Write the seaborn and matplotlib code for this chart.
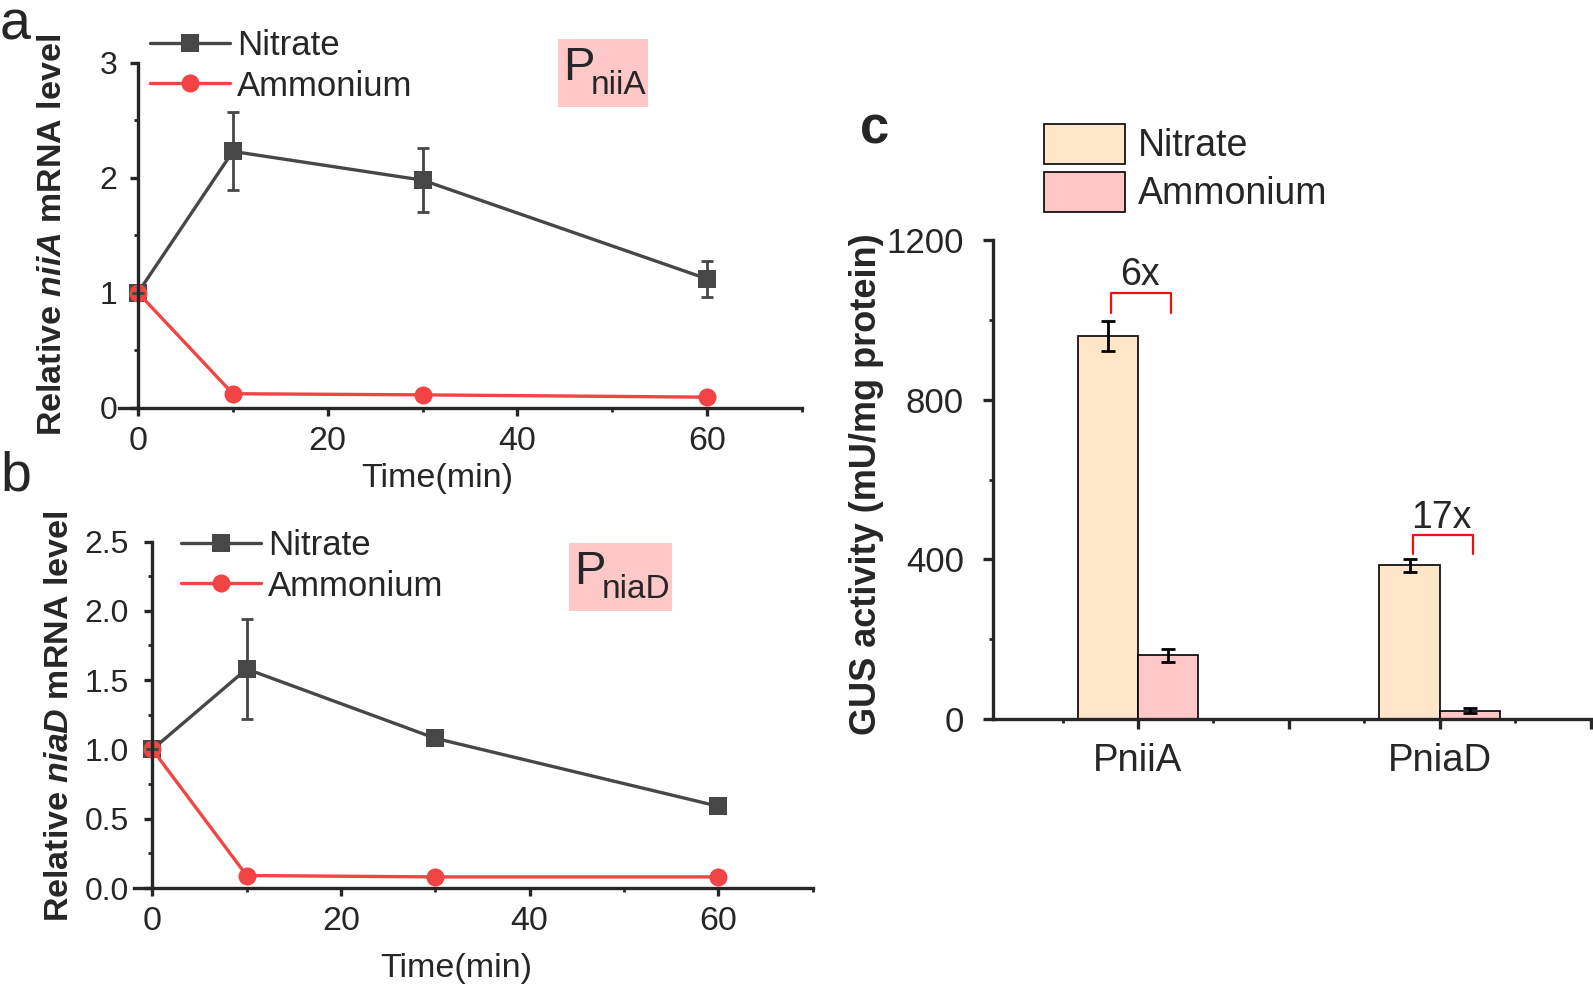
import numpy as np
import pandas as pd
import matplotlib
matplotlib.use("Agg")
import matplotlib.pyplot as plt
from matplotlib.ticker import MultipleLocator, FixedLocator, FormatStrFormatter
import seaborn as sns

# ---- data ----
time_min = [0, 10, 30, 60]

niiA_nitrate = [1.0, 2.23, 1.98, 1.12]
niiA_nitrate_err = [0.0, 0.34, 0.28, 0.16]
niiA_ammonium = [1.0, 0.12, 0.11, 0.09]
niiA_ammonium_err = [0.0, 0.01, 0.01, 0.01]

niaD_nitrate = [1.0, 1.58, 1.08, 0.59]
niaD_nitrate_err = [0.0, 0.36, 0.03, 0.03]
niaD_ammonium = [1.0, 0.09, 0.08, 0.08]
niaD_ammonium_err = [0.0, 0.01, 0.01, 0.01]

promoters = ["PniiA", "PniaD"]
gus_nitrate = [960, 385]
gus_nitrate_err = [38, 17]
gus_ammonium = [160, 22]
gus_ammonium_err = [16, 6]
fold_labels = ["6x", "17x"]

conditions = ["Nitrate", "Ammonium"]
gray = "#474747"
red = "#F24444"
palette = {"Nitrate": gray, "Ammonium": red}
bar_colors = {"Nitrate": "#FFE6C8", "Ammonium": "#FFC8C8"}

sns.set_style("ticks")
plt.rcParams["font.family"] = ["Liberation Sans", "DejaVu Sans"]
plt.rcParams["mathtext.fontset"] = "custom"
plt.rcParams["mathtext.rm"] = "Liberation Sans"
plt.rcParams["mathtext.bf"] = "Liberation Sans:bold"
plt.rcParams["mathtext.bfit"] = "Liberation Sans:italic:bold"

W, H = 1593, 984
fig = plt.figure(figsize=(W / 100, H / 100), dpi=100)


def px_axes(left, top, right, bottom):
    return fig.add_axes([left / W, 1 - bottom / H, (right - left) / W, (bottom - top) / H])


def line_panel(ax, nit, nit_err, amm, amm_err, ymax, ystep, ylabel, box, lab_pos,
               leg_pos, ypad):
    df = pd.DataFrame({
        "time": time_min * 2,
        "value": nit + amm,
        "cond": ["Nitrate"] * 4 + ["Ammonium"] * 4,
    })
    sns.lineplot(data=df, x="time", y="value", hue="cond", style="cond",
                 hue_order=conditions, style_order=conditions,
                 markers={"Nitrate": "s", "Ammonium": "o"}, dashes=False,
                 palette=palette, linewidth=2.4, markersize=13,
                 markeredgewidth=0, ax=ax, legend=True)
    ax.errorbar(time_min, nit, yerr=nit_err, fmt="none", ecolor=gray,
                elinewidth=2, capsize=4, capthick=2)
    ax.errorbar(time_min, amm, yerr=amm_err, fmt="none", ecolor=red,
                elinewidth=2, capsize=0)
    ax.set_xlim(-2, 70)
    ax.set_ylim(0, ymax)
    ax.spines["left"].set_position(("data", 0))
    ax.spines["top"].set_visible(False)
    ax.spines["right"].set_visible(False)
    for s in ["left", "bottom"]:
        ax.spines[s].set_linewidth(2.4)
    ax.xaxis.set_major_locator(FixedLocator([0, 20, 40, 60]))
    ax.xaxis.set_minor_locator(FixedLocator([10, 30, 50, 70]))
    ax.yaxis.set_major_locator(MultipleLocator(ystep))
    ax.yaxis.set_minor_locator(MultipleLocator(ystep / 2))
    ax.tick_params(which="major", length=6, width=2.4, labelsize=24.5)
    ax.tick_params(axis="y", which="major", pad=ypad, labelsize=23)
    ax.tick_params(axis="x", which="major", pad=7)
    ax.tick_params(which="minor", length=3, width=2)
    ax.set_xlabel("Time(min)", fontsize=24.5)
    ax.set_ylabel(ylabel, fontsize=24.5, fontweight="bold")
    ax.yaxis.set_label_coords(lab_pos[0], lab_pos[1])
    ax.xaxis.set_label_coords(lab_pos[2], lab_pos[3])
    ax.xaxis.label.set_verticalalignment("center")
    handles, labels = ax.get_legend_handles_labels()
    fig.legend(handles, labels, loc="upper left",
               bbox_to_anchor=(leg_pos[0] / W, 1 - leg_pos[1] / H),
               frameon=False, fontsize=25, handlelength=2.3,
               handletextpad=0.2, labelspacing=0.22,
               borderpad=0, borderaxespad=0)
    if ax.get_legend():
        ax.get_legend().remove()
    # promoter label box
    bl, bt, br, bb = box
    fig.patches.append(plt.Rectangle((bl / W, 1 - bb / H), (br - bl) / W, (bb - bt) / H,
                                     transform=fig.transFigure, facecolor="#FFC8C8",
                                     edgecolor="none", zorder=0))


# ---- panel a ----
ax_a = px_axes(119, 63, 802, 407.5)
line_panel(ax_a, niiA_nitrate, niiA_nitrate_err, niiA_ammonium, niiA_ammonium_err,
           3, 1, r"Relative $\mathbfit{niiA}$ mRNA level",
           (558, 39, 648, 107), (-0.074, 0.5, 0.466, -0.207), (150, 29), 9)
fig.text(563 / W, 1 - 68 / H, "P", fontsize=34, va="center", ha="left")
fig.text(591 / W, 1 - 86 / H, "niiA", fontsize=24, va="center", ha="left")

# ---- panel b ----
ax_b = px_axes(133.5, 541.5, 812.5, 888)
line_panel(ax_b, niaD_nitrate, niaD_nitrate_err, niaD_ammonium, niaD_ammonium_err,
           2.5, 0.5, r"Relative $\mathbfit{niaD}$ mRNA level",
           (569, 543, 672, 611), (-0.086, 0.496, 0.476, -0.232), (181, 529), 11)
ax_b.yaxis.set_major_formatter(FormatStrFormatter("%.1f"))
fig.text(574 / W, 1 - 572 / H, "P", fontsize=34, va="center", ha="left")
fig.text(602 / W, 1 - 590 / H, "niaD", fontsize=24, va="center", ha="left")

# ---- panel c ----
ax_c = px_axes(993.2, 239.8, 1590.5, 719.3)
bar_df = pd.DataFrame({
    "promoter": promoters * 2,
    "gus": gus_nitrate + gus_ammonium,
    "cond": ["Nitrate"] * 2 + ["Ammonium"] * 2,
})
sns.barplot(data=bar_df, x="promoter", y="gus", hue="cond", order=promoters,
            hue_order=conditions, palette=bar_colors, width=0.4, errorbar=None,
            edgecolor="black", linewidth=1.2, saturation=1, ax=ax_c)
centers = np.arange(len(promoters))
ax_c.errorbar(centers - 0.1, gus_nitrate, yerr=gus_nitrate_err, fmt="none",
              ecolor="black", elinewidth=2, capsize=5, capthick=2)
ax_c.errorbar(centers + 0.1, gus_ammonium, yerr=gus_ammonium_err, fmt="none",
              ecolor="black", elinewidth=2, capsize=5, capthick=2)
# fold-change brackets
bracket_y = [1068, 460]
leg_drop = [51, 46]
for i, lab in enumerate(fold_labels):
    x0, x1 = centers[i] - 0.09, centers[i] + 0.11
    y = bracket_y[i]
    ax_c.plot([x0, x0, x1, x1], [y - leg_drop[i], y, y, y - leg_drop[i]],
              color="#F01010", lw=1.6, clip_on=False)
    ax_c.text(centers[i] + 0.005, y - 1, lab, ha="center", va="bottom", fontsize=27)
ax_c.set_xlim(-0.48, 1.5)
ax_c.set_ylim(0, 1200)
ax_c.spines["top"].set_visible(False)
ax_c.spines["right"].set_visible(False)
for s in ["left", "bottom"]:
    ax_c.spines[s].set_linewidth(2.4)
ax_c.yaxis.set_major_locator(MultipleLocator(400))
ax_c.yaxis.set_minor_locator(MultipleLocator(200))
ax_c.xaxis.set_major_locator(FixedLocator([0, 0.5, 1, 1.5]))
ax_c.xaxis.set_minor_locator(FixedLocator([-0.25, 0.25, 0.75, 1.25]))
ax_c.set_xticklabels(["PniiA", "", "PniaD", ""])
ax_c.tick_params(which="major", length=7, width=2.4)
ax_c.tick_params(axis="y", which="major", labelsize=25, pad=14)
ax_c.tick_params(axis="x", which="major", labelsize=27.5, pad=10)
ax_c.tick_params(which="minor", length=3, width=2)
ax_c.set_xlabel("")
ax_c.set_ylabel("GUS activity (mU/mg protein)", fontsize=26, fontweight="bold")
ax_c.yaxis.set_label_coords(-0.182, 0.49)
ax_c.legend(loc="upper left", bbox_to_anchor=(1044 / W, 1 - 124 / H),
            bbox_transform=fig.transFigure, frameon=False,
            prop={"size": 27}, handlelength=2.15, handleheight=1.25,
            handletextpad=0.35, labelspacing=0.2, borderpad=0, borderaxespad=0)

# panel letters
fig.text(0, 1 - 40 / H, "a", fontsize=40, va="baseline")
fig.text(0, 1 - 490 / H, "b", fontsize=40, va="baseline")
fig.text(860 / W, 1 - 130 / H, "c", fontsize=38, va="center", fontweight="bold")

fig.savefig("out.png", dpi=100)
